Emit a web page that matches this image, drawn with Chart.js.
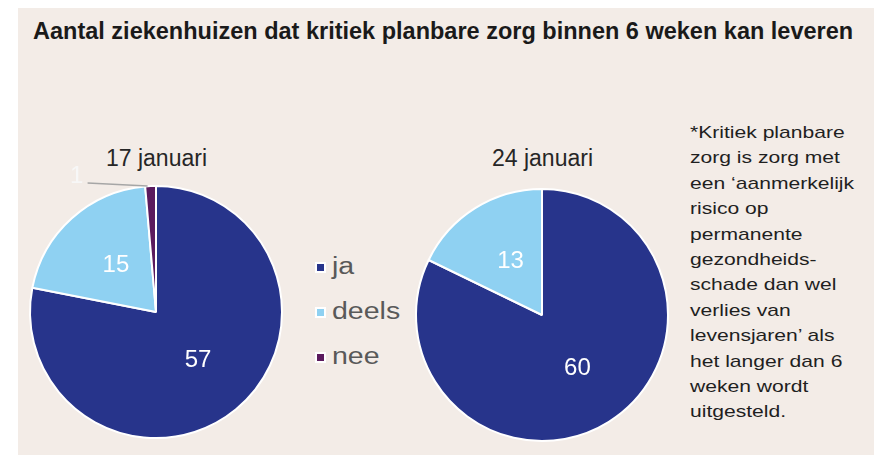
<!DOCTYPE html>
<html>
<head>
<meta charset="utf-8">
<script src="https://cdn.jsdelivr.net/npm/chart.js@4"></script>
<style>
  html, body { margin: 0; padding: 0; background: #fff; overflow: hidden; }
  body { width: 874px; height: 455px; position: relative; font-family: "Liberation Sans", Arial, sans-serif; }
  .box { position: absolute; left: 18px; top: 8px; width: 856px; height: 447px; background: #f3ece7; }
  .title { position: absolute; left: 33px; top: 18px; font-size: 23.5px; font-weight: bold; color: #1a1a1a; white-space: nowrap; }
  .date { position: absolute; font-size: 23px; color: #262626; white-space: nowrap; }
  .legend { position: absolute; left: 315px; top: 250px; font-size: 23px; color: #595959; }
  .legend div { height: 45px; line-height: 32px; white-space: nowrap; }
  .legend span.sw { display: inline-block; width: 7px; height: 7px; border: 2px solid #fff; margin-right: 6px; vertical-align: 1px; }
  .legend span.tx { display: inline-block; transform: scaleX(1.24); transform-origin: left center; }
  .note { position: absolute; left: 690px; top: 120px; font-size: 17px; line-height: 25.4px; color: #1f1f1f;
          transform: scaleX(1.24); transform-origin: left top; white-space: nowrap; }
  canvas { position: absolute; }
</style>
</head>
<body>
<div class="box"></div>
<div class="title">Aantal ziekenhuizen dat kritiek planbare zorg binnen 6 weken kan leveren</div>
<div class="date" style="left:106px;top:145px">17 januari</div>
<div class="date" style="left:492px;top:145px">24 januari</div>
<div class="legend" id="legend"></div>
<div class="note">*Kritiek planbare<br>zorg is zorg met<br>een ‘aanmerkelijk<br>risico op<br>permanente<br>gezondheids-<br>schade dan wel<br>verlies van<br>levensjaren’ als<br>het langer dan 6<br>weken wordt<br>uitgesteld.</div>

<canvas id="pie1" width="312" height="312" style="left:0px;top:156px"></canvas>
<canvas id="pie2" width="300" height="300" style="left:392px;top:165px"></canvas>

<script>
const categories = ['ja', 'deels', 'nee'];
const colors = ['#27348b', '#8fd1f2', '#5b1a5e'];
const jan17 = [57, 15, 1];
const jan24 = [60, 13, 0];

// legend
const leg = document.getElementById('legend');
categories.forEach((c, i) => {
    const d = document.createElement('div');
    d.innerHTML = '<span class="sw" style="background:' + colors[i] + '"></span><span class="tx">' + c + '</span>';
    leg.appendChild(d);
});

// labels inside the slices, small ones outside with a leader line
const sliceLabels = {
    id: 'sliceLabels',
    afterDatasetsDraw(chart) {
        const ctx = chart.ctx;
        const meta = chart.getDatasetMeta(0);
        const data = chart.data.datasets[0].data;
        ctx.save();
        ctx.font = '24px "Liberation Sans", Arial, sans-serif';
        ctx.textAlign = 'center';
        ctx.textBaseline = 'middle';
        meta.data.forEach((arc, i) => {
            const v = data[i];
            if (!v) return;
            const p = arc.getProps(['x', 'y', 'startAngle', 'endAngle', 'outerRadius']);
            if (p.endAngle - p.startAngle > 0.3) {
                const pos = arc.tooltipPosition();
                ctx.fillStyle = '#fff';
                ctx.fillText(v, pos.x + 2, pos.y);
            } else {
                const mid = (p.startAngle + p.endAngle) / 2;
                const ex = p.x + Math.cos(mid) * p.outerRadius - 3;
                const ey = p.y + Math.sin(mid) * p.outerRadius;
                ctx.strokeStyle = '#a6a6a6';
                ctx.lineWidth = 1.5;
                ctx.beginPath();
                ctx.moveTo(ex, ey);
                ctx.lineTo(ex - 60, ey - 3);
                ctx.stroke();
                ctx.fillStyle = '#f7f7f7';
                ctx.fillText(v, ex - 71, ey - 10);
            }
        });
        ctx.restore();
    }
};

function makePie(id, values) {
    new Chart(document.getElementById(id), {
        type: 'pie',
        data: {
            labels: categories,
            datasets: [{
                data: values,
                backgroundColor: colors,
                borderColor: '#ffffff',
                borderWidth: 2,
                hoverOffset: 0
            }]
        },
        options: {
            responsive: false,
            animation: false,
            radius: 126,
            layout: { padding: 0 },
            events: [],
            plugins: {
                legend: { display: false },
                tooltip: { enabled: false }
            }
        },
        plugins: [sliceLabels]
    });
}

makePie('pie1', jan17);
makePie('pie2', jan24);
</script>
</body>
</html>
